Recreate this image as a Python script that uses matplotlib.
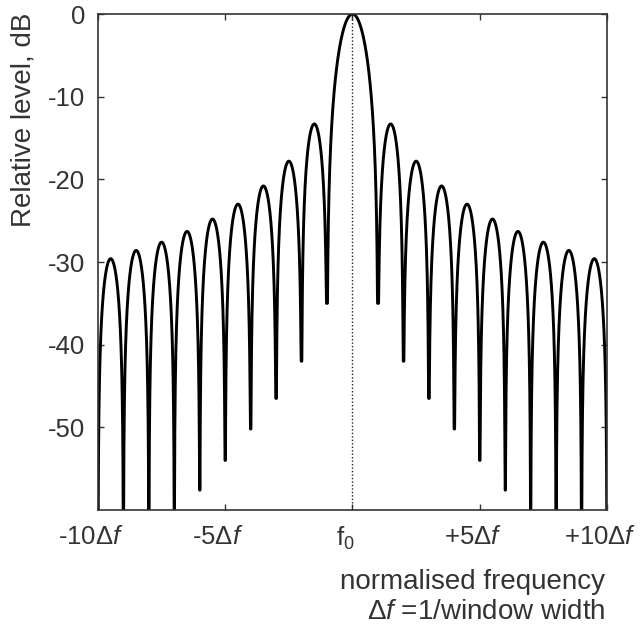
import numpy as np
import matplotlib.pyplot as plt
import matplotlib.transforms as mtransforms

plt.rcParams['font.family'] = ['Liberation Sans', 'DejaVu Sans']
plt.rcParams['mathtext.fontset'] = 'custom'
plt.rcParams['mathtext.rm'] = 'Liberation Sans'
plt.rcParams['mathtext.it'] = 'Liberation Sans:italic'
plt.rcParams['axes.unicode_minus'] = False

# levels (positive side, mirrored for the negative side)
main_peak = 0.0
sidelobe_peaks = [-13.3, -17.8, -20.8, -23.0, -24.8, -26.3, -27.6, -28.6, -29.6]  # lobes n..n+1, n=1..9
null_depths = [-35.0, -42.0, -46.5, -50.2, -54.0, -57.6, -90.0, -90.0, -90.0, -90.0]  # nulls at n=1..10

xtick_pos = [-10, -5, 0, 5, 10]
xtick_lbl = [r'-10$\Delta \mathit{f}$', r'-5$\Delta \mathit{f}$', r'f$_0$',
             r'+5$\Delta \mathit{f}$', r'+10$\Delta \mathit{f}$']
ytick_pos = [0, -10, -20, -30, -40, -50]

# build the lobe curve from the read peaks / null floors
x = np.linspace(0, 10, 4001)
with np.errstate(divide='ignore', invalid='ignore'):
    s = 20 * np.log10(np.abs(np.sin(np.pi * x)))
    y = np.empty_like(x)
    main = x < 1
    y[main] = main_peak + 20 * np.log10(np.abs(np.sinc(x[main])))
    n = np.clip(np.floor(x[~main]).astype(int), 1, 9)
    y[~main] = np.array(sidelobe_peaks)[n - 1] + s[~main]
nearest = np.rint(x).astype(int)
floor = np.where(nearest >= 1, np.array([-np.inf] + null_depths)[nearest], -np.inf)
y = np.maximum(y, floor)
y[0] = main_peak

xx = np.concatenate([-x[::-1], x[1:]])
yy = np.concatenate([y[::-1], y[1:]])

fs = 18.5
lfs = 20
txt = '#333333'

fig = plt.figure(figsize=(6.42, 6.28), dpi=100)
ax = fig.add_axes([0.1526, 0.1879, 0.7929, 0.7898])
ax.plot(xx, yy, color='black', lw=2.1, solid_joinstyle='round')
ax.axvline(0, color='#222222', lw=1.0, ls=(0, (1, 1.5)))

ax.set_xlim(-10, 10)
ax.set_ylim(-60, 0)
ax.set_xticks(xtick_pos)
ax.set_xticklabels(xtick_lbl)
ax.set_yticks(ytick_pos)
ax.tick_params(direction='in', top=True, right=True, length=4, width=1,
               labelsize=fs, colors=txt, pad=9)
ax.tick_params(axis='x', pad=11)
shift = mtransforms.ScaledTranslation(-7 / 100, 0, fig.dpi_scale_trans)
for lbl in ax.get_xticklabels():
    lbl.set_transform(lbl.get_transform() + shift)
for sp in ax.spines.values():
    sp.set_color(txt)
    sp.set_linewidth(1.2)

ax.set_ylabel('Relative level, dB', fontsize=lfs, color=txt)
ax.yaxis.set_label_coords(-0.147, 1.003)
ax.yaxis.label.set_va('center')
ax.yaxis.label.set_ha('right')

fig.text(0.943, 0.073, 'normalised frequency', ha='right', va='center',
         fontsize=lfs, color=txt)
fig.text(0.943, 0.025, r'$\Delta \mathit{f}$ =1/window width', ha='right', va='center',
         fontsize=lfs, color=txt)

fig.savefig('out.png', dpi=100)
